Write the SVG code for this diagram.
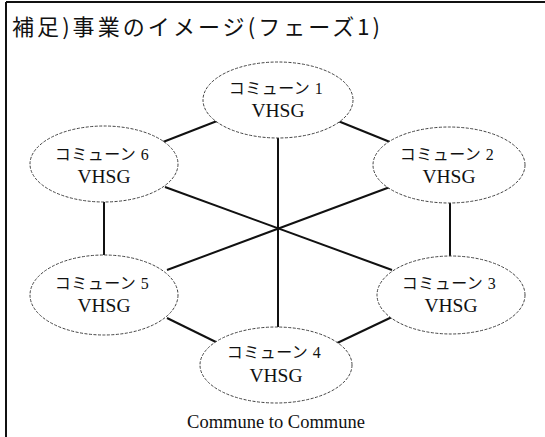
<svg xmlns="http://www.w3.org/2000/svg" width="545" height="437" viewBox="0 0 545 437">
  <style>
    .frame { stroke: #111; stroke-width: 2; fill: none; }
    .node ellipse { fill: #fff; stroke: #444; stroke-width: 1; stroke-dasharray: 3 1.5; }
    .jp { font-family: "Liberation Serif", "Noto Sans CJK JP", serif; font-size: 16px; fill: #111; text-anchor: middle; letter-spacing: 0.5px; }
    .en { font-family: "Liberation Serif", serif; font-size: 19.5px; fill: #111; text-anchor: middle; }
    .title { font-family: "Noto Sans CJK JP", sans-serif; font-size: 22px; fill: #111; }
    .caption { font-family: "Liberation Serif", serif; font-size: 18.5px; fill: #111; text-anchor: middle; }
    #connectors line { stroke: #111; stroke-width: 2; }
  </style>

  <rect width="545" height="437" fill="#fff"/>

  <!-- frame: top rule and left rule -->
  <line class="frame" x1="6" y1="2" x2="545" y2="2"/>
  <line class="frame" x1="6" y1="2" x2="6" y2="437"/>

  <text class="title" x="12" y="35" textLength="368" lengthAdjust="spacing">補足)事業のイメージ(フェーズ1)</text>

  <g id="connectors">
    <line x1="217" y1="121" x2="163" y2="142"/>
    <line x1="338" y1="121" x2="390" y2="142"/>
    <line x1="104" y1="202" x2="104" y2="256"/>
    <line x1="450" y1="203" x2="450" y2="256"/>
    <line x1="167" y1="318" x2="222" y2="345"/>
    <line x1="392" y1="317" x2="333" y2="345"/>
    <line x1="278" y1="138" x2="278" y2="327"/>
    <line x1="165" y1="187" x2="392" y2="270"/>
    <line x1="390" y1="187" x2="167" y2="270"/>
  </g>

  <g id="node1" class="node">
    <ellipse cx="278" cy="100" rx="75" ry="38"/>
    <text class="jp" x="276" y="94">コミューン 1</text>
    <text class="en" x="278" y="117">VHSG</text>
  </g>
  <g id="node2" class="node">
    <ellipse cx="449" cy="165" rx="76" ry="38"/>
    <text class="jp" x="447" y="160">コミューン 2</text>
    <text class="en" x="449" y="183">VHSG</text>
  </g>
  <g id="node3" class="node">
    <ellipse cx="451" cy="295" rx="74" ry="39"/>
    <text class="jp" x="449" y="289">コミューン 3</text>
    <text class="en" x="451" y="312">VHSG</text>
  </g>
  <g id="node4" class="node">
    <ellipse cx="276" cy="365" rx="76" ry="38"/>
    <text class="jp" x="274" y="358">コミューン 4</text>
    <text class="en" x="276" y="382">VHSG</text>
  </g>
  <g id="node5" class="node">
    <ellipse cx="104" cy="295" rx="74" ry="40"/>
    <text class="jp" x="102" y="289">コミューン 5</text>
    <text class="en" x="104" y="312">VHSG</text>
  </g>
  <g id="node6" class="node">
    <ellipse cx="104" cy="164" rx="74" ry="38"/>
    <text class="jp" x="102" y="160">コミューン 6</text>
    <text class="en" x="104" y="183">VHSG</text>
  </g>

  <text class="caption" x="276" y="428">Commune to Commune</text>
</svg>
